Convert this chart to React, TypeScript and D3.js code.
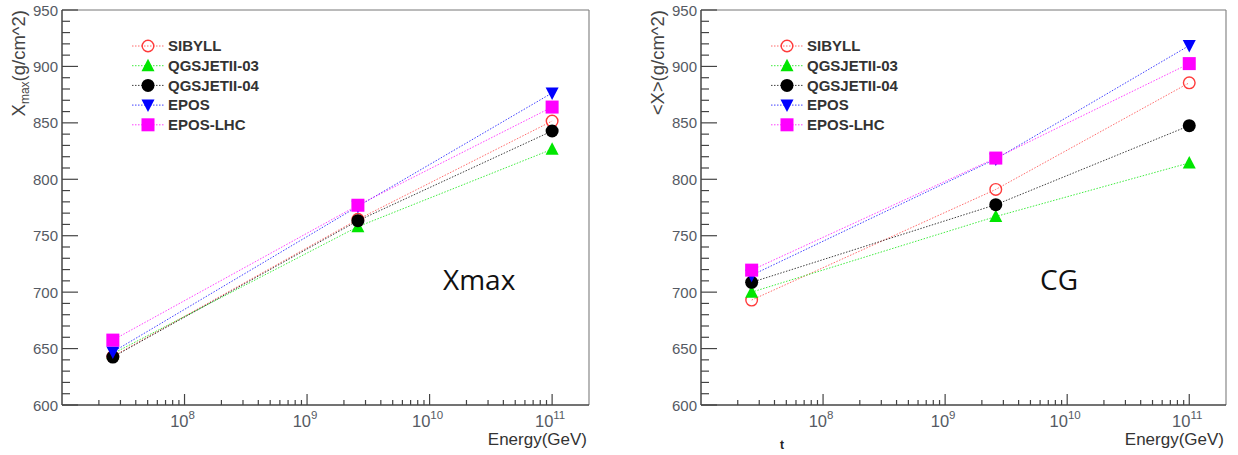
import React from 'react';
import * as d3 from 'd3';

const energies = [2.6e7, 2.6e9, 1e11];
const seriesNames = ['SIBYLL', 'QGSJETII-03', 'QGSJETII-04', 'EPOS', 'EPOS-LHC'];
const seriesColors = ['#ff3b3b', '#00e600', '#000000', '#0000ff', '#ff00ff'];
const seriesMarkers = ['openCircle', 'triangleUp', 'circle', 'triangleDown', 'square'];

// Xmax panel values (g/cm^2)
const xmaxSibyll = [643, 764.5, 851.6];
const xmaxQgs03 = [645.5, 758, 826.6];
const xmaxQgs04 = [642.5, 763.3, 842.8];
const xmaxEpos = [647, 776, 876.5];
const xmaxEposLhc = [657.5, 777, 864];

// CG panel values (g/cm^2)
const cgSibyll = [693, 791, 885.5];
const cgQgs03 = [700, 767, 814.5];
const cgQgs04 = [708.7, 777.5, 847.5];
const cgEpos = [715, 818, 918.5];
const cgEposLhc = [719.5, 818.8, 902.5];

const yTickLabels = [600, 650, 700, 750, 800, 850, 900, 950];
const xTickExps = [8, 9, 10, 11];

const FONT = "'Liberation Sans', Arial, sans-serif";

type Geom = { left: number; right: number; top: number; bottom: number };

function Marker({ kind, cx, cy, color }: { kind: string; cx: number; cy: number; color: string }) {
  if (kind === 'openCircle')
    return <circle cx={cx} cy={cy} r={5.8} fill="none" stroke={color} strokeWidth={1.4} />;
  if (kind === 'circle') return <circle cx={cx} cy={cy} r={6.5} fill={color} />;
  if (kind === 'square') return <rect x={cx - 6.5} y={cy - 6.5} width={13} height={13} fill={color} />;
  if (kind === 'triangleUp')
    return <path d={`M${cx},${cy - 7}L${cx + 6.5},${cy + 5.5}L${cx - 6.5},${cy + 5.5}Z`} fill={color} />;
  return <path d={`M${cx},${cy + 7}L${cx + 6.5},${cy - 5.5}L${cx - 6.5},${cy - 5.5}Z`} fill={color} />;
}

function Panel({ g, data, kind }: { g: Geom; data: number[][]; kind: 'xmax' | 'cg' }) {
  const x = d3.scaleLog().domain([1e7, 2e11]).range([g.left, g.right]);
  const y = d3.scaleLinear().domain([600, 950]).range([g.bottom, g.top]);
  const line = d3
    .line<number>()
    .x((_, i) => x(energies[i]))
    .y((d) => y(d));

  const xMinor: { v: number; major: boolean }[] = [];
  for (let e = 7; e <= 11; e++) {
    for (let m = 1; m <= 9; m++) {
      const v = m * Math.pow(10, e);
      if (v > 1e7 && v < 2e11) xMinor.push({ v, major: m === 1 });
    }
  }
  const yMinor = d3.range(600, 951, 10);

  const axisColor = '#444';
  const labelColor = '#555a63';

  return (
    <g>
      {/* frame */}
      <line x1={g.left} x2={g.right} y1={g.top} y2={g.top} stroke="#777" strokeWidth={1} />
      <line x1={g.right} x2={g.right} y1={g.top} y2={g.bottom} stroke="#888" strokeWidth={1.2} />
      <line x1={g.left} x2={g.left} y1={g.top} y2={g.bottom} stroke={axisColor} strokeWidth={1.5} />
      <line x1={g.left} x2={g.right} y1={g.bottom} y2={g.bottom} stroke={axisColor} strokeWidth={1.5} />

      {/* y ticks */}
      {yMinor.map((v) => {
        const major = v % 50 === 0;
        return (
          <line
            key={'yt' + v}
            x1={g.left}
            x2={g.left + (major ? 16 : 8)}
            y1={y(v)}
            y2={y(v)}
            stroke={axisColor}
            strokeWidth={1.2}
          />
        );
      })}
      {yTickLabels.map((v) => (
        <text
          key={'yl' + v}
          x={g.left - 4}
          y={y(v) + 5.5}
          textAnchor="end"
          fontSize={15}
          fontFamily={FONT}
          fill={labelColor}
        >
          {v}
        </text>
      ))}

      {/* x ticks */}
      {xMinor.map((t) => (
        <line
          key={'xt' + t.v}
          x1={x(t.v)}
          x2={x(t.v)}
          y1={g.bottom}
          y2={g.bottom - (t.major ? 11 : 5)}
          stroke={axisColor}
          strokeWidth={1.2}
        />
      ))}
      {xTickExps.map((e) => (
        <text
          key={'xl' + e}
          x={x(Math.pow(10, e)) - 2}
          y={g.bottom + 22}
          textAnchor="middle"
          fontSize={16.5}
          fontFamily={FONT}
          fill={labelColor}
        >
          <tspan>10</tspan>
          <tspan fontSize={11.5} dy={-8}>
            {e}
          </tspan>
        </text>
      ))}
      <text
        x={g.right - 2}
        y={g.bottom + 40}
        textAnchor="end"
        fontSize={17}
        fontFamily={FONT}
        fill="#333"
      >
        Energy(GeV)
      </text>

      {/* y title */}
      <text
        transform={`translate(${g.left - 37},${g.top}) rotate(-90)`}
        textAnchor="end"
        fontSize={18.5}
        fontFamily={FONT}
        fill="#444"
      >
        {kind === 'xmax' ? (
          <>
            <tspan>X</tspan>
            <tspan fontSize={12} dy={4}>
              max
            </tspan>
            <tspan dy={-4}>(g/cm^2)</tspan>
          </>
        ) : (
          <tspan>{'<X>(g/cm^2)'}</tspan>
        )}
      </text>

      {/* series */}
      {data.map((vals, si) => (
        <g key={'s' + si}>
          <path
            d={line(vals) || ''}
            fill="none"
            stroke={seriesColors[si]}
            strokeWidth={1}
            strokeDasharray="1.5 1.5"
            opacity={0.75}
          />
          {vals.map((v, i) => (
            <Marker
              key={i}
              kind={seriesMarkers[si]}
              cx={x(energies[i])}
              cy={y(v)}
              color={seriesColors[si]}
            />
          ))}
        </g>
      ))}

      {/* legend */}
      {seriesNames.map((name, si) => {
        const ly = 46 + si * 19.7;
        const mx = g.left + 86;
        return (
          <g key={'lg' + si}>
            <line
              x1={g.left + 70}
              x2={g.left + 102}
              y1={ly}
              y2={ly}
              stroke={seriesColors[si]}
              strokeWidth={1}
              strokeDasharray="1.5 1.5"
              opacity={0.75}
            />
            <Marker kind={seriesMarkers[si]} cx={mx} cy={ly} color={seriesColors[si]} />
            <text
              x={g.left + 106}
              y={ly + 5.3}
              fontSize={15}
              fontWeight="bold"
              fontFamily={FONT}
              fill="#333"
            >
              {name}
            </text>
          </g>
        );
      })}

      {/* annotation */}
      <text
        x={kind === 'xmax' ? 443 : 1040}
        y={290}
        fontSize={28}
        fontFamily="'Open Sans', sans-serif"
        fill="#111"
      >
        {kind === 'xmax' ? 'Xmax' : 'CG'}
      </text>
    </g>
  );
}

export default function App() {
  const leftGeom: Geom = { left: 62, right: 589, top: 10, bottom: 405 };
  const rightGeom: Geom = { left: 701, right: 1226, top: 10, bottom: 405 };
  const xmaxData = [xmaxSibyll, xmaxQgs03, xmaxQgs04, xmaxEpos, xmaxEposLhc];
  const cgData = [cgSibyll, cgQgs03, cgQgs04, cgEpos, cgEposLhc];
  return (
    <svg
      width={1238}
      height={455}
      style={{ position: 'absolute', left: 0, top: 0, background: '#fff' }}
    >
      <rect x={0} y={0} width={1238} height={455} fill="#fff" />
      <Panel g={leftGeom} data={xmaxData} kind="xmax" />
      <Panel g={rightGeom} data={cgData} kind="cg" />
      <text x={780} y={449} fontSize={12} fontWeight="bold" fontFamily={FONT} fill="#222">
        t
      </text>
    </svg>
  );
}
